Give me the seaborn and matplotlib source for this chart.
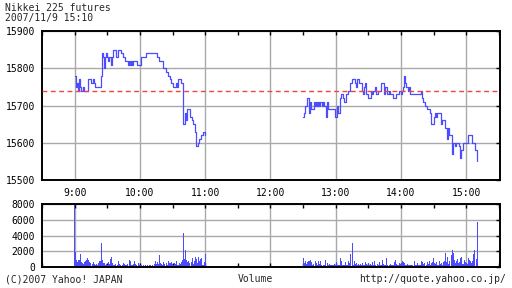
import numpy as np
import pandas as pd
import matplotlib
matplotlib.use("Agg")
import matplotlib.pyplot as plt
import seaborn as sns

# ---------------- data ----------------
title_name = "Nikkei 225 futures"
title_time = "2007/11/9 15:10"
am_start = 540   # 9:00 (minutes since midnight)
pm_start = 750   # 12:30
prev_close = 15740

price_am = [
    15780, 15750, 15760, 15740, 15770, 15750, 15740, 15740, 15750, 15740,
    15740, 15740, 15770, 15770, 15770, 15760, 15760, 15770, 15760, 15750,
    15750, 15750, 15750, 15750, 15780, 15840, 15830, 15800, 15830, 15840,
    15830, 15820, 15830, 15810, 15830, 15850, 15850, 15850, 15830, 15830,
    15850, 15850, 15850, 15840, 15830, 15830, 15820, 15820, 15820, 15810,
    15820, 15810, 15820, 15810, 15820, 15820, 15820, 15810, 15810, 15810,
    15810, 15830, 15830, 15830, 15830, 15830, 15840, 15840, 15840, 15840,
    15840, 15840, 15840, 15840, 15840, 15840, 15830, 15830, 15820, 15820,
    15820, 15800, 15800, 15800, 15790, 15790, 15780, 15780, 15770, 15760,
    15750, 15750, 15750, 15760, 15750, 15770, 15770, 15770, 15760, 15760,
    15650, 15680, 15660, 15690, 15690, 15690, 15670, 15670, 15660, 15650,
    15650, 15630, 15590, 15600, 15610, 15610, 15620, 15620, 15630, 15630,
    15620,
]
price_pm = [
    15670, 15680, 15700, 15700, 15720, 15680, 15710, 15690, 15690, 15690,
    15710, 15700, 15710, 15700, 15710, 15700, 15710, 15700, 15710, 15700,
    15700, 15670, 15710, 15690, 15690, 15690, 15690, 15690, 15690, 15670,
    15670, 15700, 15680, 15680, 15720, 15730, 15730, 15720, 15710, 15730,
    15730, 15740, 15740, 15760, 15760, 15770, 15770, 15770, 15760, 15750,
    15770, 15760, 15760, 15760, 15740, 15730, 15750, 15760, 15730, 15730,
    15720, 15720, 15740, 15730, 15740, 15740, 15750, 15730, 15730, 15740,
    15740, 15740, 15760, 15760, 15730, 15750, 15750, 15730, 15730, 15740,
    15730, 15730, 15730, 15720, 15720, 15730, 15730, 15730, 15740, 15740,
    15730, 15740, 15750, 15780, 15760, 15750, 15740, 15750, 15730, 15730,
    15730, 15730, 15730, 15730, 15730, 15730, 15730, 15730, 15740, 15720,
    15710, 15710, 15700, 15700, 15690, 15690, 15690, 15680, 15650, 15650,
    15670, 15680, 15670, 15680, 15680, 15680, 15680, 15650, 15660, 15660,
    15640, 15640, 15610, 15640, 15620, 15620, 15620, 15570, 15600, 15600,
    15590, 15600, 15600, 15590, 15560, 15580, 15580, 15600, 15600, 15600,
    15600, 15600, 15620, 15620, 15620, 15600, 15600, 15600, 15580, 15580,
    15550,
]
vol_am = [
    8000, 1900, 900, 600, 850, 1600, 600, 450, 350, 600,
    700, 950, 1100, 900, 600, 500, 400, 600, 350, 250,
    400, 300, 450, 700, 800, 3100, 850, 500, 300, 400,
    250, 600, 350, 1000, 1300, 500, 300, 250, 400, 300,
    700, 350, 200, 150, 300, 500, 350, 250, 200, 400,
    900, 800, 300, 200, 350, 700, 400, 250, 150, 500,
    300, 200, 150, 250, 100, 200, 150, 250, 150, 200,
    300, 150, 250, 400, 700, 400, 600, 400, 1500, 500,
    350, 250, 600, 400, 500, 300, 700, 500, 450, 600,
    350, 250, 500, 400, 700, 300, 500, 400, 600, 900,
    4300, 1000, 2100, 900, 600, 700, 500, 600, 1200, 400,
    800, 1300, 1000, 500, 1300, 700, 1000, 1200, 300, 600,
    1600,
]
vol_pm = [
    1100, 500, 700, 400, 600, 800, 700, 900, 600, 200,
    400, 800, 500, 200, 700, 400, 700, 200, 100, 200,
    200, 900, 500, 300, 400, 300, 300, 300, 200, 400,
    300, 600, 200, 300, 1100, 700, 300, 200, 300, 600,
    200, 200, 800, 500, 1600, 3100, 300, 700, 400, 500,
    300, 400, 200, 400, 300, 500, 200, 600, 400, 300,
    500, 200, 400, 300, 600, 200, 700, 300, 400, 200,
    600, 300, 200, 900, 400, 200, 300, 1200, 300, 200,
    400, 300, 200, 300, 600, 950, 400, 200, 300, 500,
    400, 800, 600, 500, 300, 200, 400, 300, 200, 200,
    300, 200, 700, 200, 300, 500, 200, 300, 200, 800,
    600, 400, 500, 300, 600, 400, 700, 300, 500, 600,
    1200, 500, 400, 600, 300, 700, 400, 500, 300, 600,
    800, 1800, 600, 1300, 400, 800, 1500, 2200, 1800, 900,
    500, 700, 1000, 500, 600, 1200, 1300, 400, 900, 600,
    500, 400, 1100, 900, 700, 500, 800, 1600, 2100, 1000,
    5700,
]
hour_ticks = [540, 600, 660, 720, 780, 840, 900]
hour_labels = ["9:00", "10:00", "11:00", "12:00", "13:00", "14:00", "15:00"]
half_ticks = [510, 570, 630, 690, 750, 810, 870, 930]
price_ticks = [15500, 15600, 15700, 15800, 15900]
vol_ticks = [0, 2000, 4000, 6000, 8000]

# ---------------- style ----------------
sns.set_style("white")
plt.rcParams["font.family"] = ["DejaVu Sans Mono", "DejaVu Sans"]
FS = 7
BLUE = "#4c4cff"
GRID = "#a9a9a9"
RED = "#ee4444"

t_am = am_start + np.arange(len(price_am))
t_pm = pm_start + np.arange(len(price_pm))
df_am = pd.DataFrame({"t": t_am, "price": price_am, "vol": vol_am})
df_pm = pd.DataFrame({"t": t_pm, "price": price_pm, "vol": vol_pm})
df_vol = pd.concat([df_am, df_pm], ignore_index=True)

W, H = 512, 288
fig = plt.figure(figsize=(W / 100, H / 100), dpi=100)
ax1 = fig.add_axes([42 / W, (H - 180) / H, 458 / W, 149 / H])
ax2 = fig.add_axes([42 / W, (H - 267) / H, 458 / W, 63 / H])

# price
for d in (df_am, df_pm):
    sns.lineplot(data=d, x="t", y="price", ax=ax1, color=BLUE, lw=0.9,
                 drawstyle="steps-post", legend=False)
ax1.axhline(prev_close, color=RED, lw=1.0, ls=(0, (3.5, 2.5)), zorder=3)

# volume
sns.barplot(data=df_vol, x="t", y="vol", ax=ax2, native_scale=True,
            color=BLUE, width=0.95, linewidth=0, errorbar=None,
            saturation=1, antialiased=False)

for ax, yt, ylim in ((ax1, price_ticks, (15500, 15900)), (ax2, vol_ticks, (0, 8000))):
    ax.set_xlim(510, 931)
    ax.set_ylim(*ylim)
    ax.set_xticks(hour_ticks)
    ax.set_xticks(half_ticks, minor=True)
    ax.set_yticks(yt)
    ax.set_yticklabels([str(v) for v in yt], fontsize=FS)
    ax.set_xlabel("")
    ax.set_ylabel("")
    ax.set_axisbelow(True)
    ax.grid(True, which="major", color=GRID, lw=1.0)
    for s in ax.spines.values():
        s.set_visible(True)
        s.set_color("black")
        s.set_linewidth(1.4)
    ax.tick_params(axis="y", which="both", left=False, right=True,
                   direction="in", length=3, width=1, pad=5, colors="black")
    ax.tick_params(axis="x", which="both", top=True, bottom=(ax is ax2),
                   direction="in", length=3, width=1, colors="black")

ax1.set_xticklabels(hour_labels, fontsize=FS)
ax1.tick_params(axis="x", which="major", pad=6)
ax2.set_xticklabels([])

# texts
fig.text(5 / W, 1 - 3 / H, title_name, fontsize=FS, va="top", ha="left")
fig.text(5 / W, 1 - 12.5 / H, title_time, fontsize=FS, va="top", ha="left")
fig.text(5 / W, 1 - 279 / H, "(C)2007 Yahoo! JAPAN", fontsize=FS, va="center", ha="left")
fig.text(255 / W, 1 - 279 / H, "Volume", fontsize=FS, va="center", ha="center")
fig.text(506 / W, 1 - 279 / H, "http://quote.yahoo.co.jp/", fontsize=FS, va="center", ha="right")

fig.savefig("out.png", dpi=100, facecolor="white")
